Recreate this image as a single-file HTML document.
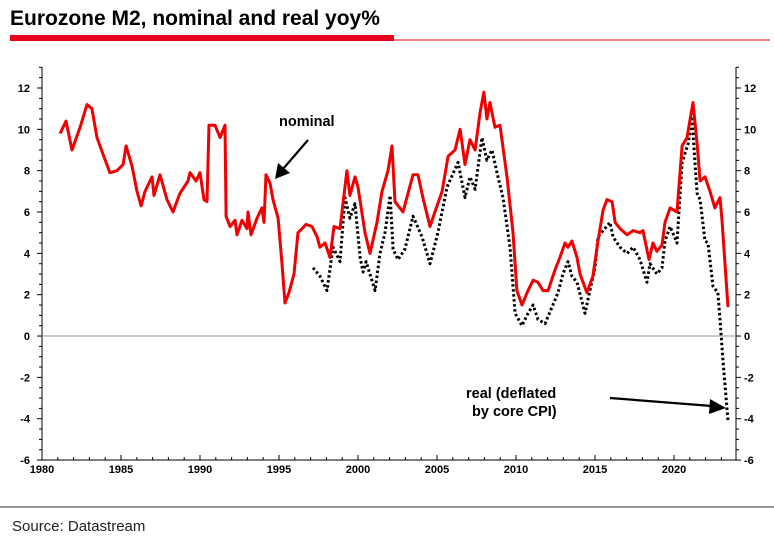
<!DOCTYPE html>
<html><head><meta charset="utf-8"><style>
body{margin:0;background:#fff;width:774px;height:540px;overflow:hidden;font-family:"Liberation Sans",Arial,sans-serif}
</style></head><body>
<svg id="chart" width="774" height="540" xmlns="http://www.w3.org/2000/svg" font-family="Liberation Sans, Arial, sans-serif">
<text x="10" y="25" font-size="21" font-weight="bold" fill="#000">Eurozone M2, nominal and real yoy%</text>
<rect x="10" y="35" width="384" height="6" fill="#e8001c"/>
<line x1="394" y1="40" x2="770" y2="40" stroke="#e8001c" stroke-width="1"/>
<line x1="0" y1="507" x2="774" y2="507" stroke="#999" stroke-width="2"/>
<text x="12" y="531" font-size="15" fill="#222">Source: Datastream</text>
<g id="axes"></g>
<g id="series"></g>
<text x="279" y="126" font-size="14.5" font-weight="bold">nominal</text>
<line x1="308" y1="140" x2="283" y2="169" stroke="#000" stroke-width="2.2"/>
<polygon points="275,179 278,163 290,173" fill="#000"/>
<text x="466" y="398" font-size="14.5" font-weight="bold">real (deflated</text>
<text x="472" y="416" font-size="14.5" font-weight="bold">by core CPI)</text>
<line x1="610" y1="398" x2="712" y2="406" stroke="#000" stroke-width="2.2"/>
<polygon points="726,408 710,399 709,414" fill="#000"/>
</svg>
<script>
const yTicks=[-6,-4,-2,0,2,4,6,8,10,12];
const xTicks=[1980,1985,1990,1995,2000,2005,2010,2015,2020];
const nomYears=[1981.15,1981.27,1981.52,1981.9,1982.41,1982.85,1983.16,1983.48,1983.86,1984.3,1984.75,1985.13,1985.32,1985.7,1986.01,1986.27,1986.52,1986.96,1987.09,1987.47,1987.91,1988.29,1988.73,1989.24,1989.37,1989.75,1990.0,1990.25,1990.44,1990.57,1990.95,1991.27,1991.58,1991.65,1991.9,1992.22,1992.34,1992.66,1992.97,1993.04,1993.23,1993.61,1993.92,1994.05,1994.18,1994.43,1994.62,1994.94,1995.19,1995.38,1995.63,1995.95,1996.2,1996.46,1996.71,1997.09,1997.41,1997.59,1997.91,1998.23,1998.48,1998.86,1999.3,1999.49,1999.81,2000.0,2000.44,2000.76,2001.2,2001.52,2001.9,2002.15,2002.34,2002.85,2003.48,2003.8,2004.11,2004.56,2004.87,2005.32,2005.7,2006.14,2006.46,2006.77,2007.09,2007.41,2007.72,2007.97,2008.16,2008.35,2008.67,2008.99,2009.43,2009.81,2010.06,2010.38,2010.76,2011.08,2011.39,2011.71,2012.03,2012.47,2012.78,2013.1,2013.29,2013.54,2013.86,2014.05,2014.49,2014.87,2015.19,2015.51,2015.76,2016.08,2016.27,2016.58,2017.03,2017.41,2017.85,2018.04,2018.42,2018.67,2018.92,2019.24,2019.43,2019.75,2020.19,2020.51,2020.82,2021.2,2021.46,2021.65,2021.96,2022.28,2022.59,2022.91,2023.04,2023.42];
const nomValues=[9.8,10.0,10.4,9.0,10.1,11.2,11.0,9.6,8.8,7.9,8.0,8.3,9.2,8.2,7.0,6.3,7.0,7.7,6.8,7.8,6.6,6.0,6.9,7.5,7.9,7.5,7.9,6.6,6.5,10.2,10.2,9.6,10.2,5.8,5.3,5.6,4.9,5.6,5.2,6.0,4.9,5.7,6.2,5.5,7.8,7.4,6.6,5.7,3.5,1.6,2.1,3.0,5.0,5.2,5.4,5.3,4.8,4.3,4.5,3.8,5.3,5.2,8.0,6.8,7.7,7.2,5.0,4.0,5.5,7.0,8.0,9.2,6.5,6.0,7.8,7.8,6.7,5.3,6.0,7.0,8.7,9.0,10.0,8.3,9.5,9.0,10.8,11.8,10.5,11.3,10.1,10.2,7.7,5.0,2.2,1.5,2.2,2.7,2.6,2.2,2.2,3.2,3.8,4.5,4.3,4.6,3.8,3.0,2.1,2.9,4.6,6.1,6.6,6.5,5.5,5.2,4.9,5.1,5.0,5.1,3.7,4.5,4.1,4.4,5.5,6.2,6.0,9.2,9.6,11.3,9.3,7.5,7.7,7.0,6.2,6.7,5.6,1.4];
const realYears=[1997.15,1997.59,1998.04,1998.42,1998.86,1999.18,1999.49,1999.81,2000.13,2000.32,2000.51,2001.08,2001.39,2001.71,2002.03,2002.22,2002.53,2002.97,2003.48,2004.05,2004.56,2005.06,2005.63,2006.33,2006.77,2007.09,2007.41,2007.85,2008.16,2008.48,2008.8,2009.18,2009.62,2009.94,2010.38,2010.76,2011.08,2011.39,2011.84,2012.28,2012.66,2012.97,2013.29,2013.54,2013.86,2014.37,2014.68,2015.0,2015.19,2015.51,2015.95,2016.14,2016.58,2017.03,2017.41,2017.85,2018.29,2018.48,2018.92,2019.24,2019.43,2019.75,2020.19,2020.51,2020.89,2021.14,2021.46,2021.65,2021.96,2022.15,2022.47,2022.78,2022.91,2023.1,2023.42];
const realValues=[3.3,2.9,2.2,4.3,3.6,6.7,5.7,6.4,3.8,3.1,3.6,2.2,4.0,5.0,6.8,4.2,3.7,4.2,5.8,4.8,3.5,5.0,7.2,8.4,6.7,7.7,7.1,9.6,8.5,9.0,7.9,6.7,4.3,1.1,0.5,1.1,1.5,0.8,0.6,1.4,2.1,3.0,3.6,2.9,2.6,1.1,2.2,3.3,4.8,5.1,5.5,4.8,4.3,4.0,4.3,3.7,2.6,3.5,3.0,3.3,4.6,5.3,4.5,8.4,9.3,10.5,6.9,6.6,4.6,4.5,2.4,2.1,0.8,-1.2,-4.1];

const NS='http://www.w3.org/2000/svg';
const X0=42,XPY=15.8,Y12=88,PPU=20.67,Y0=Y12+12*PPU;
function xs(y){return X0+(y-1980)*XPY;}
function ys(v){return Y0-v*PPU;}
const axes=document.getElementById('axes'),series=document.getElementById('series');
function mk(tag,attrs,parent){const e=document.createElementNS(NS,tag);for(const k in attrs)e.setAttribute(k,attrs[k]);parent.appendChild(e);return e;}
const L=42,R=736,B=ys(-6),T=67;
let e;
e=mk('line',{x1:L,y1:T,x2:L,y2:B,stroke:'#000','stroke-width':1},axes);


e=mk('line',{x1:R,y1:T,x2:R,y2:B,stroke:'#000','stroke-width':1},axes);


e=mk('line',{x1:L,y1:B,x2:R,y2:B,stroke:'#000','stroke-width':1},axes);


e=mk('line',{x1:L,y1:ys(0),x2:R,y2:ys(0),stroke:'#999','stroke-width':1},axes);


for(let v=-6;v<=13.01;v+=0.5){const y=ys(v);const maj=Math.abs(v%2)<0.01;
 mk('line',{x1:L-(maj?5:3),y1:y,x2:L,y2:y,stroke:'#000','stroke-width':1},axes);
 mk('line',{x1:R,y1:y,x2:R+(maj?5:3),y2:y,stroke:'#000','stroke-width':1},axes);}
yTicks.forEach(v=>{
 e=mk('text',{x:L-12,y:ys(v)+4,'font-size':11,'font-weight':'bold','text-anchor':'end'},axes);e.textContent=v;
 
 
 e=mk('text',{x:R+8,y:ys(v)+4,'font-size':11,'font-weight':'bold'},axes);e.textContent=v;
 
 });
for(let yr=1980;yr<=2023;yr++){const x=xs(yr);mk('line',{x1:x,y1:B,x2:x,y2:B-(yr%5===0?5:3),stroke:'#000','stroke-width':1},axes);}
xTicks.forEach(yr=>{
 e=mk('text',{x:xs(yr),y:B+13,'font-size':11,'font-weight':'bold','text-anchor':'middle'},axes);e.textContent=yr;
 
 });
function pts(ya,va){return ya.map((y,i)=>xs(y).toFixed(1)+','+ys(va[i]).toFixed(1)).join(' ');}
e=mk('polyline',{points:pts(realYears,realValues),fill:'none',stroke:'#000','stroke-width':3,'stroke-dasharray':'2.5,2.5','stroke-linejoin':'round'},series);


e=mk('polyline',{points:pts(nomYears,nomValues),fill:'none',stroke:'#f00000','stroke-width':3,'stroke-linejoin':'round'},series);


</script>
</body></html>
